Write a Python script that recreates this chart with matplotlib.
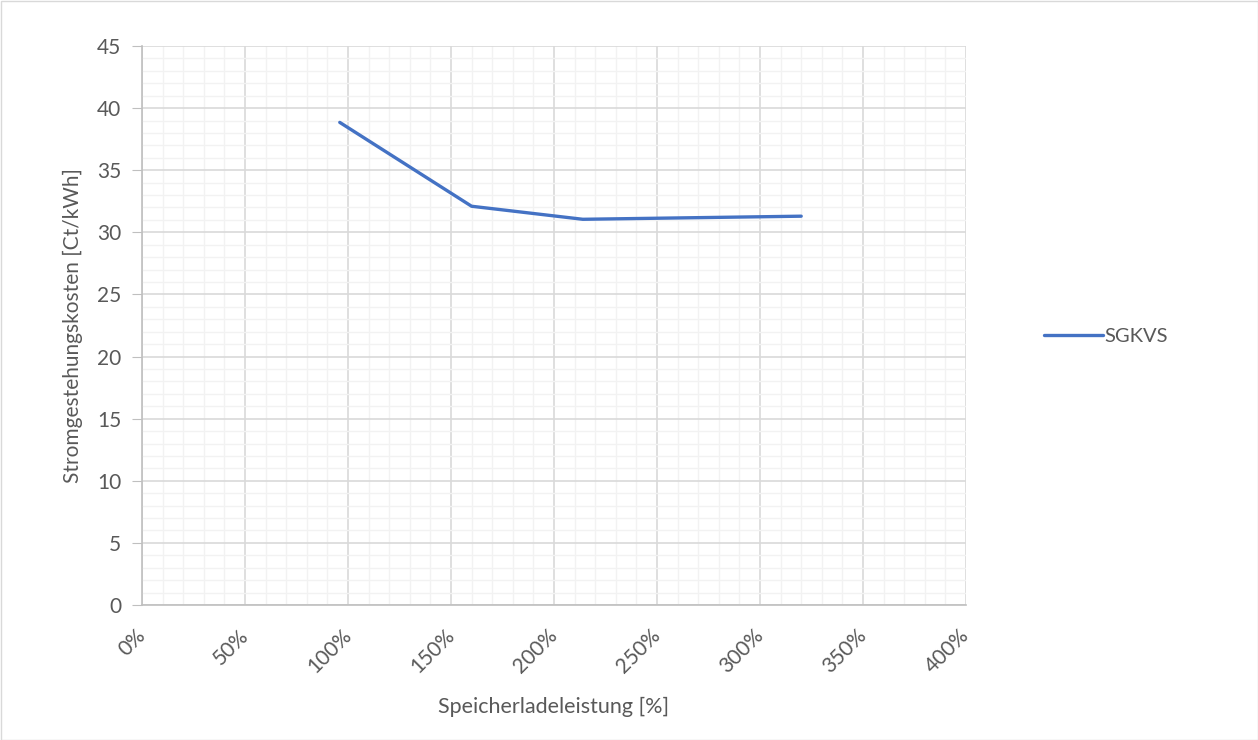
import matplotlib.pyplot as plt
from matplotlib.patches import Rectangle
from matplotlib.ticker import MultipleLocator, FuncFormatter

plt.rcParams["font.family"] = ["Lato", "DejaVu Sans"]

# data
ladeleistung = [96, 160, 214, 320]          # Speicherladeleistung [%]
kosten = [38.85, 32.1, 31.05, 31.3]         # Stromgestehungskosten [Ct/kWh]
series_name = "SGKVS"

TEXT = "#595959"
MAJOR = "#D9D9D9"
MINOR = "#F2F2F2"
LINE = "#4472C4"

fig = plt.figure(figsize=(12.58, 7.4), dpi=100)
ax = fig.add_axes([142 / 1258, 1 - 605 / 740, (966 - 142) / 1258, (605 - 46) / 740])

ax.plot(ladeleistung, kosten, color=LINE, lw=2.4, solid_capstyle="round",
        label=series_name, zorder=3)

ax.set_xlim(0, 400)
ax.set_ylim(0, 45)
ax.xaxis.set_major_locator(MultipleLocator(50))
ax.xaxis.set_minor_locator(MultipleLocator(10))
ax.yaxis.set_major_locator(MultipleLocator(5))
ax.yaxis.set_minor_locator(MultipleLocator(1))
ax.xaxis.set_major_formatter(FuncFormatter(lambda v, _: f"{v:.0f}%"))

ax.grid(which="minor", color=MINOR, lw=1.0, zorder=0)
ax.grid(which="major", color=MAJOR, lw=1.2, zorder=1)
ax.set_axisbelow(True)

for side in ["top", "right"]:
    ax.spines[side].set_visible(False)
for side in ["left", "bottom"]:
    ax.spines[side].set_color("#BFBFBF")
    ax.spines[side].set_linewidth(1.2)

ax.tick_params(axis="y", which="major", length=7, color="#BFBFBF",
               labelcolor=TEXT, labelsize=15, pad=8)
ax.tick_params(axis="x", which="major", length=0, labelcolor=TEXT,
               labelsize=15, pad=20)
ax.tick_params(which="minor", length=0)
for lab in ax.get_xticklabels():
    lab.set_rotation(45)
    lab.set_ha("right")
    lab.set_va("center")
    lab.set_rotation_mode("anchor")

ax.set_xlabel("Speicherladeleistung [%]", color=TEXT, fontsize=15.5, labelpad=14)
ax.set_ylabel("Stromgestehungskosten [Ct/kWh]", color=TEXT, fontsize=15, labelpad=10)

fig.legend(loc="center left", bbox_to_anchor=(1026 / 1258, 1 - 336 / 740),
           frameon=False, fontsize=14.5, labelcolor=TEXT, handlelength=2.9,
           handletextpad=0.1)

fig.patches.append(Rectangle((0.5 / 1258, 0.5 / 740), 1 - 1 / 1258, 1 - 1 / 740,
                             transform=fig.transFigure, fill=False,
                             edgecolor="#D9D9D9", lw=1))

fig.savefig("out.png", dpi=100)
